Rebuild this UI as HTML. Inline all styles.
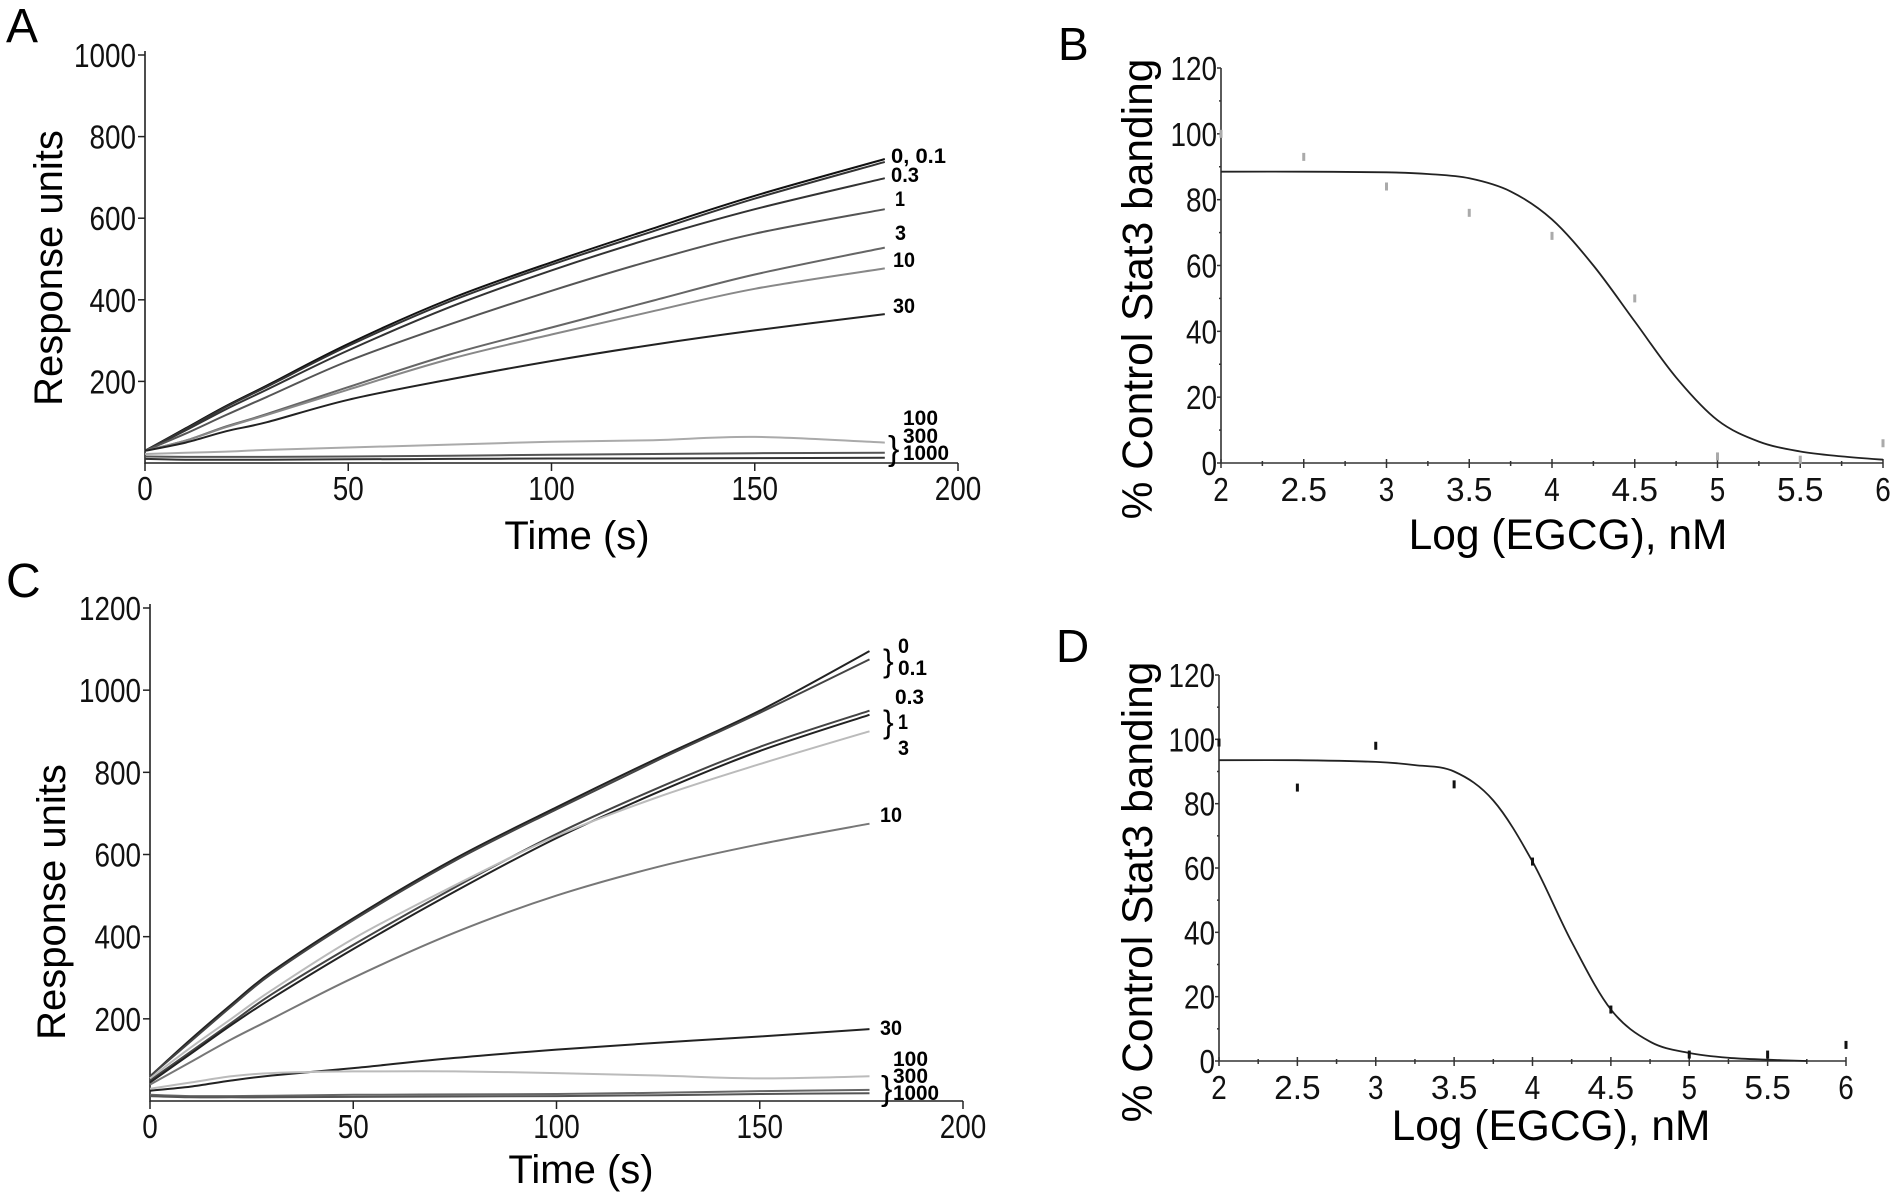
<!DOCTYPE html>
<html><head><meta charset="utf-8"><style>
html,body{margin:0;padding:0;background:#fff;}
svg{display:block;font-family:"Liberation Sans",Arial,sans-serif;}
</style></head><body>
<svg id="fig" width="1890" height="1193" viewBox="0 0 1890 1193" xmlns="http://www.w3.org/2000/svg">
<rect width="1890" height="1193" fill="#fff"/>
<text x="6" y="42" font-size="48">A</text>
<text x="1058" y="60" font-size="46">B</text>
<text x="6" y="597" font-size="48">C</text>
<text x="1056" y="662" font-size="46">D</text>
<g id="gA"></g>
<g id="gB"></g>
<g id="gC"></g>
<g id="gD"></g>
</svg>
<script>
// ---- Panel A data ----
const timeA = [0,10,20,30,50,75,100,125,150,182];
const aS0   = [30,85,140,190,292,402,492,575,655,745];
const aS01  = [30,83,138,187,287,396,486,568,648,738];
const aS03  = [30,80,132,180,276,382,472,552,622,698];
const aS1   = [30,72,118,162,250,340,422,497,562,622];
const aS3   = [30,55,90,120,186,266,332,398,462,528];
const aS10  = [30,55,88,118,180,255,315,372,427,477];
const aS30  = [30,50,78,100,155,205,250,290,325,365];
const aS100 = [22,25,28,32,38,45,52,56,64,50];
const aS300 = [16,15,15,15,16,18,20,22,24,25];
const aS1000= [10,8,8,8,9,10,11,11,12,13];
const aTicksY = [200,400,600,800,1000];
const aTicksX = [0,50,100,150,200];
// ---- Panel C data ----
const timeC = [0,10,20,30,50,75,100,125,150,177];
const cS0   = [60,150,235,315,445,590,715,835,950,1095];
const cS01  = [60,145,230,310,440,585,710,830,945,1075];
const cS03  = [50,120,190,260,380,520,650,762,862,950];
const cS1   = [45,115,185,250,370,510,640,752,852,940];
const cS3   = [55,130,200,270,395,525,645,740,820,900];
const cS10  = [40,95,150,200,300,410,500,570,625,675];
const cS30  = [25,35,50,62,80,105,125,142,157,175];
const cS100 = [30,45,60,68,72,72,68,62,55,60];
const cS300 = [15,12,12,13,15,16,17,20,24,27];
const cS1000= [12,9,9,9,10,11,12,14,17,19];
const cTicksY = [200,400,600,800,1000,1200];
const cTicksX = [0,50,100,150,200];
// ---- Panel B data ----
const bPointsX = [2,2.5,3,3.5,4,4.5,5,5.5,6];
const bPointsY = [100,93,84,76,69,50,2,1,6];
const bCurveX = [2,2.5,3,3.25,3.5,3.75,4,4.25,4.5,4.75,5,5.25,5.5,5.75,6];
const bCurveY = [88.5,88.5,88.3,87.8,86.5,82.5,74,60,43,26,13,6.5,3.5,2,1];
// ---- Panel D data ----
const dPointsX = [2,2.5,3,3.5,4,4.5,5,5.5,6];
const dPointsY = [99,85,98,86,62,16,2,2,5];
const dCurveX = [2,2.5,3,3.25,3.5,3.75,4,4.25,4.5,4.75,5,5.25,5.5,5.75];
const dCurveY = [93.5,93.5,93,92,90,81,62,37,16,6,2.5,1,0.4,0];
const doseTicksY = [0,20,40,60,80,100,120];
const doseTicksX = [2,2.5,3,3.5,4,4.5,5,5.5,6];

const NS="http://www.w3.org/2000/svg";
function mk(parent, tag, attrs){const e=document.createElementNS(NS,tag);for(const k in attrs)e.setAttribute(k,attrs[k]);parent.appendChild(e);return e;}
function scale(d0,d1,r0,r1){return v=>r0+(v-d0)*(r1-r0)/(d1-d0);}
function smooth(pts){
  let d="M"+pts[0][0].toFixed(1)+","+pts[0][1].toFixed(1);
  for(let i=0;i<pts.length-1;i++){
    const p0=pts[Math.max(0,i-1)],p1=pts[i],p2=pts[i+1],p3=pts[Math.min(pts.length-1,i+2)];
    const c1=[p1[0]+(p2[0]-p0[0])/6,p1[1]+(p2[1]-p0[1])/6];
    const c2=[p2[0]-(p3[0]-p1[0])/6,p2[1]-(p3[1]-p1[1])/6];
    d+="C"+c1[0].toFixed(1)+","+c1[1].toFixed(1)+" "+c2[0].toFixed(1)+","+c2[1].toFixed(1)+" "+p2[0].toFixed(1)+","+p2[1].toFixed(1);
  }
  return d;
}
function tickText(g,x,y,s,anchor){
  const t=mk(g,"text",{x:x,y:y,"font-size":33,"text-anchor":anchor,fill:"#111",textLength:s.length*15.5,lengthAdjust:"spacingAndGlyphs"});
  t.textContent=s;
  
  
  return t;
}
function label(g,x,y,s,size,extra){
  const t=mk(g,"text",Object.assign({x:x,y:y,"font-size":size,fill:"#000"},extra||{}));
  t.textContent=s;return t;
}

function kinetic(gid, X, Y, tx, ty, series, colors, names, labels, titlePos, brace){
  const g=document.getElementById(gid);
  const xs=scale(0,200,X[0],X[1]), ys=scale(0,ty[ty.length-1],Y[0],Y[1]);
  const ax=mk(g,"path",{d:`M${X[0]},${Y[1]-4}V${Y[0]}H${X[1]}`,stroke:"#222","stroke-width":1.6,fill:"none"});
  
  
  ty.forEach(v=>{const y=ys(v);mk(g,"line",{x1:X[0]-7,x2:X[0],y1:y,y2:y,stroke:"#222","stroke-width":1.5});tickText(g,X[0]-9,y+12,String(v),"end");});
  tx.forEach(v=>{const x=xs(v);mk(g,"line",{x1:x,x2:x,y1:Y[0],y2:Y[0]+8,stroke:"#222","stroke-width":1.5});tickText(g,x,Y[0]+37,String(v),"middle");});
  series.forEach((s,i)=>{
    const p=mk(g,"path",{d:smooth(s.t.map((t,j)=>[xs(t),ys(s.v[j])])),stroke:colors[i],"stroke-width":2,fill:"none"});
    
    
  });
  labels.forEach(l=>{
    const t=label(g,l[0],l[1],l[2],21,{"font-weight":"bold",textLength:l[3],lengthAdjust:"spacingAndGlyphs"});
    
    
  });
  brace.forEach(b=>{
    const t=label(g,b[0],b[1],"}",b[2],{"font-weight":"normal"});
    
    
  });
  const yt=label(g,0,0,"Response units",40,{transform:`translate(${titlePos[0]+14},${titlePos[1]}) rotate(-90)`,"text-anchor":"middle"});
  
  
  const xt=label(g,titlePos[2],titlePos[3],"Time (s)",40,{"text-anchor":"middle"});
  
  
}

kinetic("gA",[145,958],[463,55],aTicksX,aTicksY,
 [{t:timeA,v:aS0},{t:timeA,v:aS01},{t:timeA,v:aS03},{t:timeA,v:aS1},{t:timeA,v:aS3},{t:timeA,v:aS10},{t:timeA,v:aS30},{t:timeA,v:aS100},{t:timeA,v:aS300},{t:timeA,v:aS1000}],
 ["#111","#333","#333","#555","#666","#888","#222","#aaa","#555","#333"],
 ["series-a-0","series-a-0.1","series-a-0.3","series-a-1","series-a-3","series-a-10","series-a-30","series-a-100","series-a-300","series-a-1000"],
 [[891,163,"0, 0.1",55],[891,182,"0.3",28],[895,206,"1",10],[895,240,"3",11],[893,267,"10",22],[893,313,"30",22],[903,425,"100",35],[903,443,"300",35],[903,460,"1000",46]],
 [48,268,577,549],
 [[888,460,34]]);

kinetic("gC",[150,963],[1101,608],cTicksX,cTicksY,
 [{t:timeC,v:cS0},{t:timeC,v:cS01},{t:timeC,v:cS03},{t:timeC,v:cS1},{t:timeC,v:cS3},{t:timeC,v:cS10},{t:timeC,v:cS30},{t:timeC,v:cS100},{t:timeC,v:cS300},{t:timeC,v:cS1000}],
 ["#222","#444","#444","#222","#bbb","#777","#222","#bbb","#666","#555"],
 ["series-c-0","series-c-0.1","series-c-0.3","series-c-1","series-c-3","series-c-10","series-c-30","series-c-100","series-c-300","series-c-1000"],
 [[898,653,"0",11],[898,675,"0.1",29],[895,704,"0.3",29],[898,729,"1",10],[898,755,"3",11],[880,822,"10",22],[880,1035,"30",22],[893,1066,"100",35],[893,1083,"300",35],[893,1100,"1000",46]],
 [51,902,581,1183],
 [[883,672,32],[883,733,32],[881,1100,34]]);

function dose(gid, X, Y, px, py, cx, cy, ptColor, pfx, titleY, titleX){
  const g=document.getElementById(gid);
  const xs=scale(2,6,X[0],X[1]), ys=scale(0,120,Y[0],Y[1]);
  const ax=mk(g,"path",{d:`M${X[0]},${Y[1]}V${Y[0]}H${X[1]}`,stroke:"#333","stroke-width":1.6,fill:"none"});
  
  
  doseTicksY.forEach(v=>{const y=ys(v);mk(g,"line",{x1:X[0]-4,x2:X[0],y1:y,y2:y,stroke:"#333","stroke-width":1.5});tickText(g,X[0]-4,y+12,String(v),"end");
    if(v<120){const ym=ys(v+10);mk(g,"line",{x1:X[0]-2,x2:X[0],y1:ym,y2:ym,stroke:"#333","stroke-width":1.5});}});
  doseTicksX.forEach(v=>{const x=xs(v);mk(g,"line",{x1:x,x2:x,y1:Y[0]-4,y2:Y[0]+5,stroke:"#333","stroke-width":1.5});tickText(g,x,Y[0]+38,String(v),"middle");
    if(v<6){const xm=xs(v+0.25);mk(g,"line",{x1:xm,x2:xm,y1:Y[0]-2,y2:Y[0]+3,stroke:"#333","stroke-width":1.5});}});
  const c=mk(g,"path",{d:smooth(cx.map((x,i)=>[xs(x),ys(cy[i])])),stroke:"#222","stroke-width":1.8,fill:"none"});
  
  
  px.forEach((x,i)=>{
    const r=mk(g,"rect",{x:xs(x)-1.5,y:ys(py[i])-4,width:3,height:8,fill:ptColor});
    
    
  });
  const yt=label(g,0,0,"% Control Stat3 banding",42.5,{transform:`translate(${titleY[0]+15},${titleY[1]}) rotate(-90)`,"text-anchor":"middle"});
  
  
  const xt=label(g,titleX[0],titleX[1],"Log (EGCG), nM",42.5,{"text-anchor":"middle"});
  
  
}
dose("gB",[1221,1883],[463,68],bPointsX,bPointsY,bCurveX,bCurveY,"#aaa","b",[1137,289],[1568,549]);
dose("gD",[1219,1846],[1061,675],dPointsX,dPointsY,dCurveX,dCurveY,"#111","d",[1137,892],[1551,1140]);
</script>
</body></html>
